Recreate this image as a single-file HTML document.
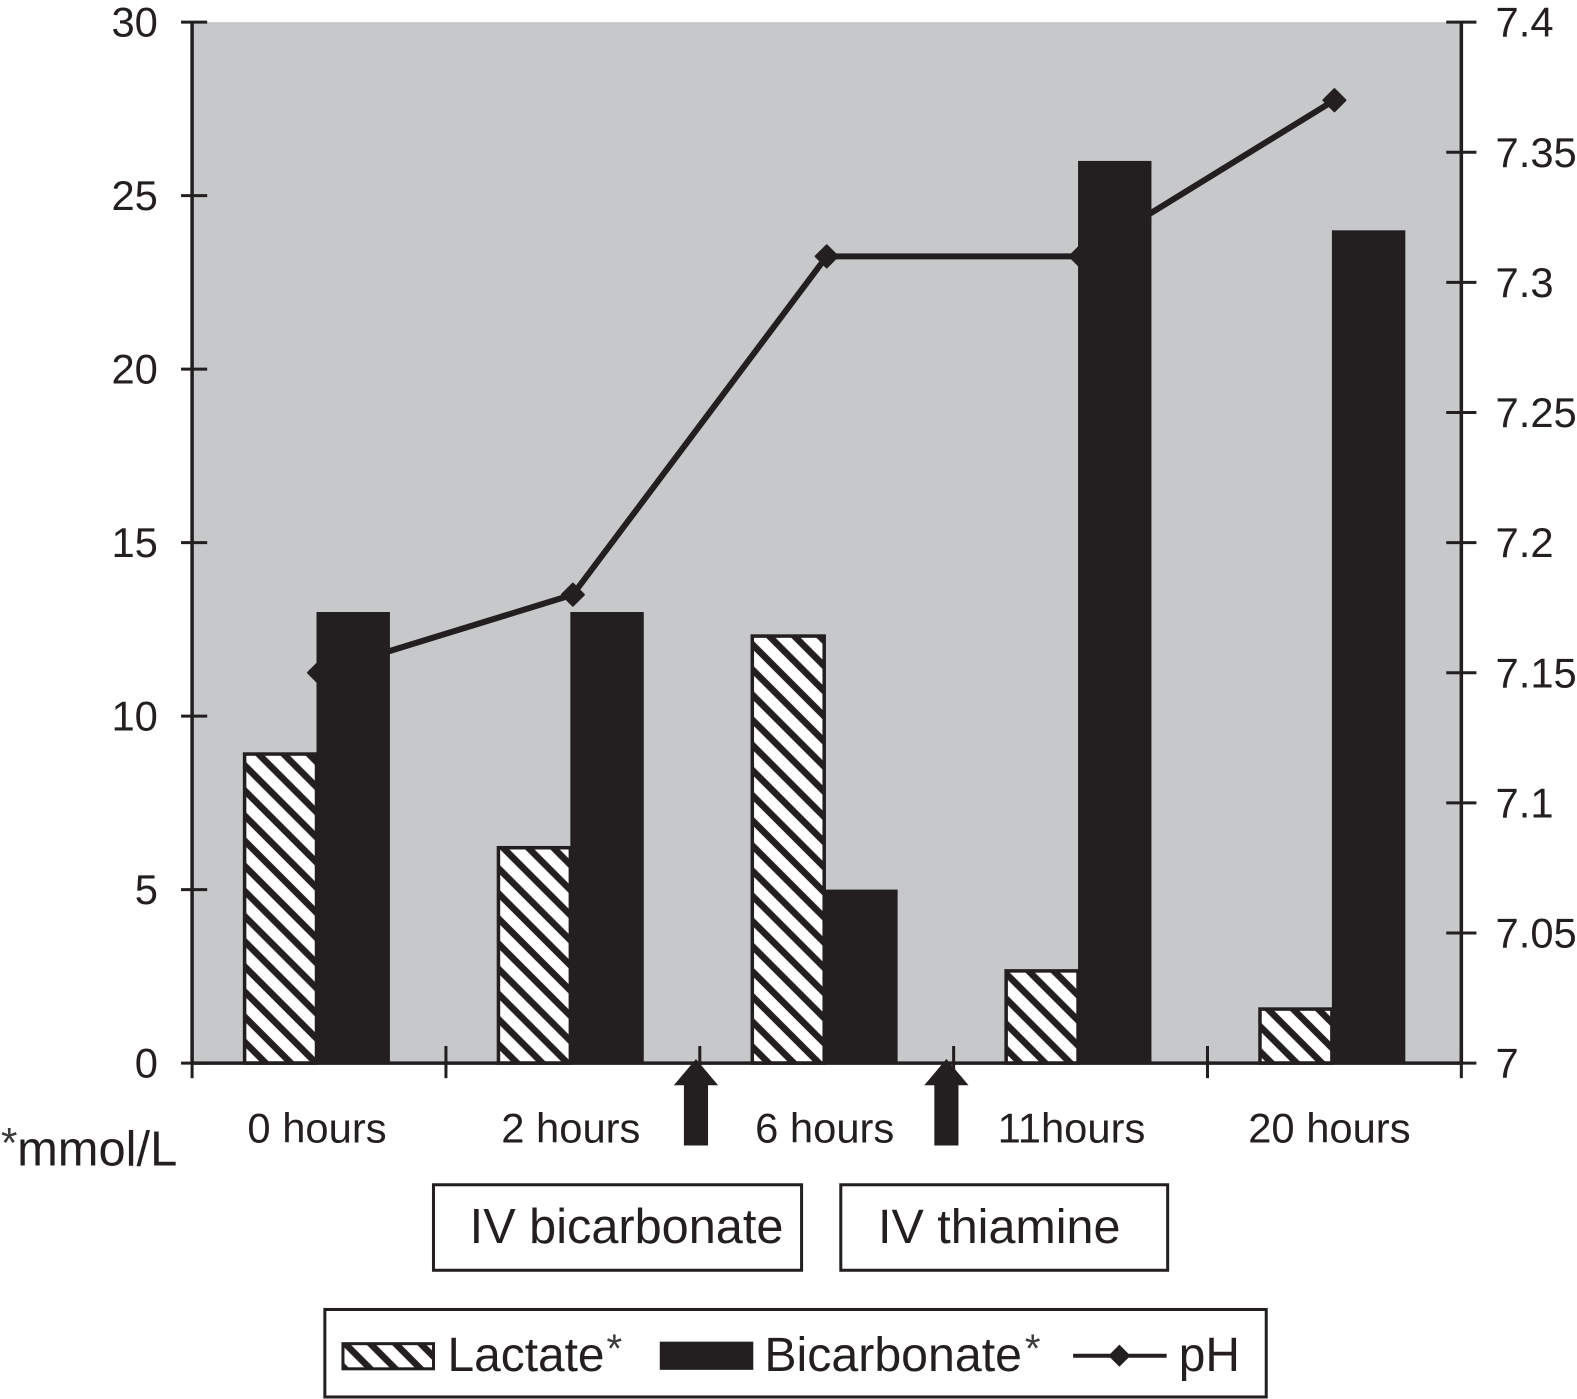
<!DOCTYPE html>
<html lang="en">
<head>
<meta charset="utf-8">
<title>Lactate, bicarbonate and pH over time</title>
<style>
  html, body { margin: 0; padding: 0; background: #fff; }
  svg { display: block; }
  text { font-family: "Liberation Sans", sans-serif; fill: #231f20; }
</style>
</head>
<body>
<svg id="chart" xmlns="http://www.w3.org/2000/svg" width="1577" height="1399" viewBox="0 0 1568 1391">
  <defs>
    <pattern id="hatch" patternUnits="userSpaceOnUse" width="17.68" height="17.68" patternTransform="rotate(45)">
      <rect width="17.68" height="17.68" fill="#fff"/>
      <rect x="0" y="9.2" width="17.68" height="6.6" fill="#231f20"/>
    </pattern>
  </defs>
  <rect x="191" y="22" width="1262" height="1035" fill="#c7c8ca"/>
  <g id="line-layer"></g>
  <g id="bar-layer"></g>
  <g id="axis-layer"></g>

  <path d="M692 1053 L714 1079 L704 1079 L704 1139 L680 1139 L680 1079 L670 1079 Z" fill="#231f20"/>
  <path d="M941 1053 L963 1079 L953 1079 L953 1139 L929 1139 L929 1079 L919 1079 Z" fill="#231f20"/>

  <text y="1159" font-size="48.6"><tspan x="1" font-size="42" fill="#3c3a3b" dy="-8">*</tspan><tspan x="17" dy="8">mmol/L</tspan></text>

  <rect x="431" y="1178" width="366" height="85" fill="#fff" stroke="#231f20" stroke-width="3"/>
  <text x="467" y="1236" font-size="48.4">IV bicarbonate</text>
  <rect x="836" y="1178" width="325" height="85" fill="#fff" stroke="#231f20" stroke-width="3"/>
  <text x="873" y="1236" font-size="48.2">IV thiamine</text>

  <g>
    <rect x="323" y="1302" width="936" height="87" fill="#fff" stroke="#231f20" stroke-width="3"/>
    <rect x="341" y="1336" width="90" height="25" fill="url(#hatch)" stroke="#231f20" stroke-width="3"/>
    <text y="1363" font-size="47.6"><tspan x="445">Lactate</tspan><tspan x="603" font-size="40" fill="#3c3a3b" dy="-9">*</tspan></text>
    <rect x="656" y="1334" width="93" height="28" fill="#231f20"/>
    <text y="1363" font-size="48"><tspan x="760">Bicarbonate</tspan><tspan x="1019" font-size="40" fill="#3c3a3b" dy="-9">*</tspan></text>
    <line x1="1067" y1="1348" x2="1160" y2="1348" stroke="#231f20" stroke-width="4"/>
    <path d="M1113 1337 L1124 1348 L1113 1359 L1102 1348 Z" fill="#231f20"/>
    <text x="1172" y="1363" font-size="47.6">pH</text>
  </g>
</svg>
<script>
const categories = ["0 hours", "2 hours", "6 hours", "11hours", "20 hours"];
const lactate = [8.95, 6.25, 12.35, 2.7, 1.6];
const bicarbonate = [13, 13, 5, 26, 24];
const ph = [7.15, 7.18, 7.31, 7.31, 7.37];
const leftTicks = [0, 5, 10, 15, 20, 25, 30];
const rightTickLabels = ["7", "7.05", "7.1", "7.15", "7.2", "7.25", "7.3", "7.35", "7.4"];

const PLOT = { left: 191, right: 1453, top: 22, bottom: 1057 };
const INK = "#231f20";
const SVG_NS = "http://www.w3.org/2000/svg";
const LEFT_MAX = 30;
const RIGHT_MIN = 7;
const RIGHT_MAX = 7.4;
const BAR_W = 73;

const bandW = (PLOT.right - PLOT.left) / categories.length;
const xBand = i => PLOT.left + bandW * (i + 0.5);
const yLeft = v => PLOT.bottom - (v / LEFT_MAX) * (PLOT.bottom - PLOT.top);
const yRight = v => PLOT.bottom - ((v - RIGHT_MIN) / (RIGHT_MAX - RIGHT_MIN)) * (PLOT.bottom - PLOT.top);

function make(tag, attrs, parent) {
  const el = document.createElementNS(SVG_NS, tag);
  for (const k in attrs) el.setAttribute(k, attrs[k]);
  parent.appendChild(el);
  return el;
}

const lineLayer = document.getElementById("line-layer");
const barLayer = document.getElementById("bar-layer");
const axisLayer = document.getElementById("axis-layer");

/* pH line (drawn behind the bars) */
const phLine = make("polyline", {
  points: ph.map((v, i) => xBand(i) + "," + yRight(v)).join(" "),
  fill: "none", stroke: INK, "stroke-width": 6
}, lineLayer);



ph.forEach((v, i) => {
  const cx = xBand(i), cy = yRight(v), r = 11;
  const marker = make("path", {
    d: `M${cx} ${cy - r} L${cx + r} ${cy} L${cx} ${cy + r} L${cx - r} ${cy} Z`,
    fill: INK, stroke: INK, "stroke-width": 2, "stroke-linejoin": "round"
  }, lineLayer);
  
  
});

/* Bars */
categories.forEach((c, i) => {
  const split = xBand(i) - 2.5;
  const ly = yLeft(lactate[i]);
  const lac = make("rect", {
    x: split - BAR_W + 1.5, y: ly + 1.5, width: BAR_W - 1.5,
    height: Math.max(0, PLOT.bottom - ly - 1.5),
    fill: "url(#hatch)", stroke: INK, "stroke-width": 3.5
  }, barLayer);
  
  

  const by = yLeft(bicarbonate[i]);
  const bic = make("rect", {
    x: split, y: by, width: BAR_W, height: PLOT.bottom - by, fill: INK
  }, barLayer);
  
  
});

/* Axis lines */
[
  [PLOT.left, PLOT.top, PLOT.left, PLOT.bottom, 'left-axis-line'],
  [PLOT.right, PLOT.top, PLOT.right, PLOT.bottom, 'right-axis-line'],
  [PLOT.left, PLOT.bottom, PLOT.right, PLOT.bottom, 'x-axis-line']
].forEach(s => {
  const axis = make("line", { x1: s[0], y1: s[1], x2: s[2], y2: s[3], stroke: INK, "stroke-width": 3.5 }, axisLayer);
  
  
});

/* Left ticks and labels */
leftTicks.forEach(v => {
  const y = yLeft(v);
  const tick = make("line", { x1: PLOT.left - 11, y1: y, x2: PLOT.left + 15, y2: y, stroke: INK, "stroke-width": 3 }, axisLayer);
  
  
  const label = make("text", { x: 157, y: y + 14.5, "text-anchor": "end", "font-size": 41.5 }, axisLayer);
  label.textContent = v;
  
  
});

/* Right ticks and labels */
rightTickLabels.forEach(s => {
  const y = yRight(parseFloat(s));
  const tick = make("line", { x1: PLOT.right - 15, y1: y, x2: PLOT.right + 15, y2: y, stroke: INK, "stroke-width": 3 }, axisLayer);
  
  
  const label = make("text", { x: 1487, y: y + 14.5, "font-size": 41.5 }, axisLayer);
  label.textContent = s;
  
  
});

/* X ticks (between categories) and category labels */
for (let i = 0; i <= categories.length; i++) {
  const x = PLOT.left + bandW * i;
  const tick = make("line", { x1: x, y1: PLOT.bottom - 17, x2: x, y2: PLOT.bottom + 15, stroke: INK, "stroke-width": 3 }, axisLayer);
  
  
}
categories.forEach((c, i) => {
  const nudge = c === "11hours" ? -9 : (c === "20 hours" ? -5 : -2);
  const label = make("text", { x: xBand(i) + nudge, y: 1136, "text-anchor": "middle", "font-size": 41.5 }, axisLayer);
  label.textContent = c;
  
  
});
</script>
</body>
</html>
